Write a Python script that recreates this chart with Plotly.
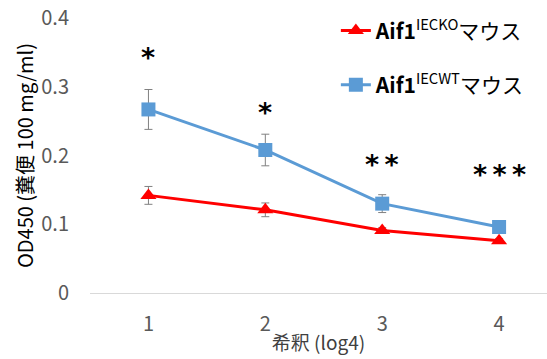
import plotly.graph_objects as go

# Dilution steps (log4)
dilution = [1, 2, 3, 4]

# OD450 means and standard errors
ko_mean = [0.142, 0.121, 0.091, 0.076]
ko_err = [0.013, 0.010, 0.004, 0.003]
wt_mean = [0.267, 0.208, 0.130, 0.096]
wt_err = [0.029, 0.023, 0.013, 0.004]

# Significance marks above each dilution
sig_labels = ["*", "*", "*&#8201;*", "*&#8201;*&#8201;*"]
sig_heights = [0.343, 0.262, 0.187, 0.173]

ko_name = "<b>Aif1</b><sup>IECKO</sup>マウス"
wt_name = "<b>Aif1</b><sup>IECWT</sup>マウス"

font_fam = "Noto Sans CJK JP, Noto Sans, sans-serif"
tick_font = dict(size=20, color="#595959", family=font_fam)

fig = go.Figure()
fig.add_trace(go.Scatter(
    x=dilution, y=ko_mean, name=ko_name, mode="lines+markers",
    line=dict(color="#FF0000", width=3),
    marker=dict(symbol="triangle-up", size=14, color="#FF0000"),
    error_y=dict(type="data", array=ko_err, color="#808080", thickness=1, width=4),
    legendgroup="ko",
))
fig.add_trace(go.Scatter(
    x=dilution, y=wt_mean, name=wt_name, mode="lines+markers",
    line=dict(color="#5B9BD5", width=3),
    marker=dict(symbol="square", size=14, color="#5B9BD5"),
    error_y=dict(type="data", array=wt_err, color="#808080", thickness=1, width=4),
    legendgroup="wt",
))

for xv, yv, txt in zip(dilution, sig_heights, sig_labels):
    fig.add_annotation(x=xv, y=yv, text=f"<b>{txt}</b>", showarrow=False,
                       font=dict(size=27, color="#000000", family="DejaVu Sans"))

fig.update_layout(
    width=547, height=359,
    margin=dict(l=90, r=0, t=18, b=66),
    paper_bgcolor="white", plot_bgcolor="white",
    font=dict(family=font_fam, color="#595959", size=18),
    showlegend=True,
    legend=dict(x=0.538, y=1.028, xanchor="left", yanchor="top",
                font=dict(size=21, color="#000000", family=font_fam),
                tracegroupgap=24, traceorder="grouped",
                bgcolor="rgba(0,0,0,0)"),
    xaxis=dict(range=[0.5, 4.41], tickvals=dilution, ticktext=[str(d) for d in dilution],
               showgrid=False, zeroline=False, showline=True, linecolor="#D9D9D9",
               linewidth=1, ticks="", ticklabelstandoff=13, tickfont=tick_font,
               title=dict(text="希釈 (log4)", standoff=0,
                          font=dict(size=19, color="#404040"))),
    yaxis=dict(range=[0, 0.4], tickvals=[0, 0.1, 0.2, 0.3, 0.4],
               ticktext=["0", "0.1", "0.2", "0.3", "0.4"],
               showgrid=False, zeroline=False, showline=False, ticks="",
               ticklabelstandoff=20, tickfont=tick_font,
               title=dict(text="OD450 (糞便 100 mg/ml)", standoff=2,
                          font=dict(size=20, color="#000000"))),
)

fig.write_html("out.html")
